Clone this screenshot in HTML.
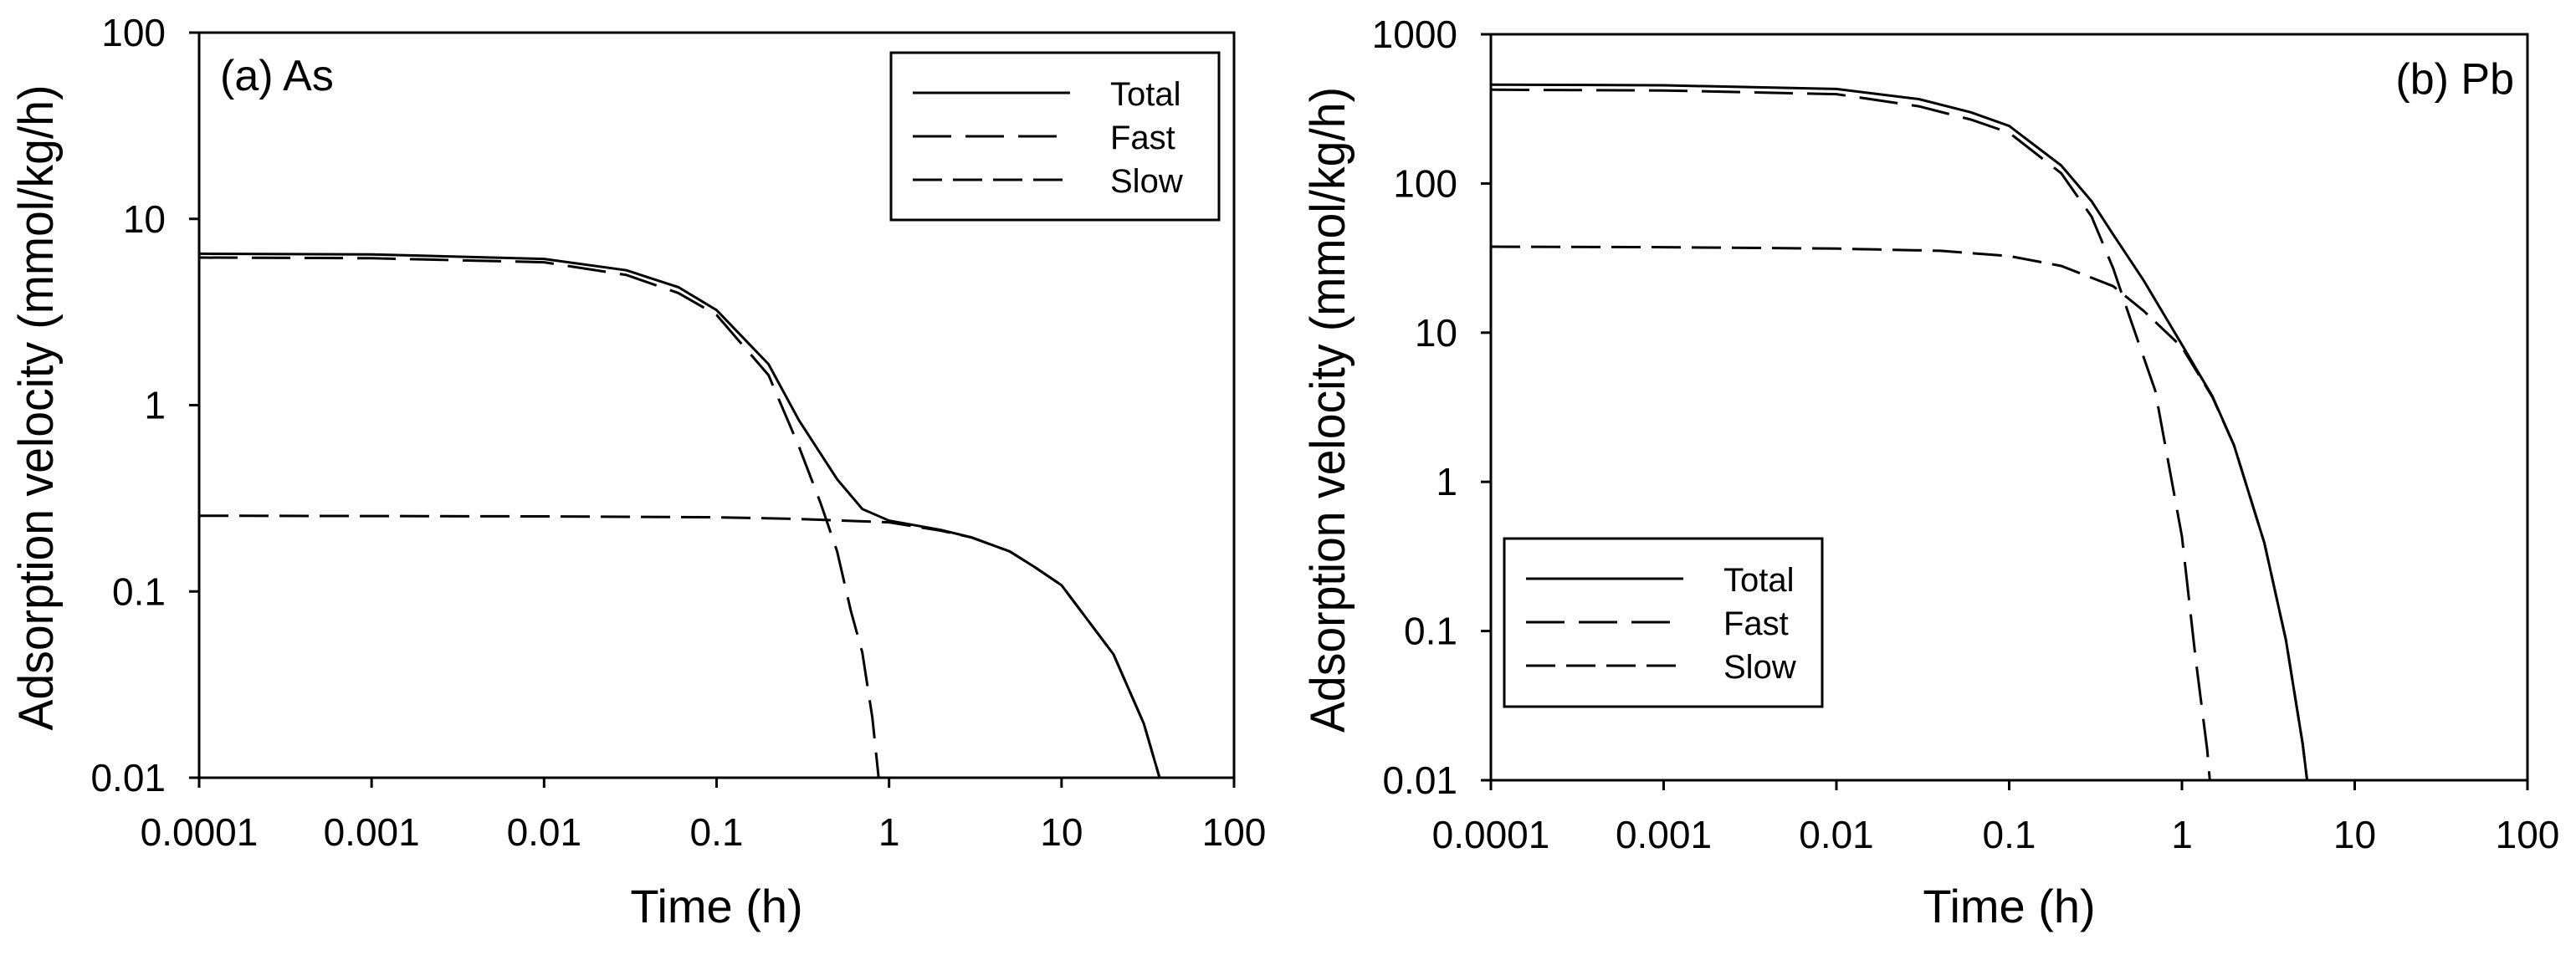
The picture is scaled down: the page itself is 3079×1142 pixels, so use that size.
<!DOCTYPE html>
<html><head><meta charset="utf-8"><style>
html,body{margin:0;padding:0;background:#fff;}
svg{display:block;font-family:"Liberation Sans",Arial,sans-serif;}
</style></head><body>
<svg id="chart" width="3079" height="1142" viewBox="0 0 3079 1142"></svg>
<script>
// Panel (a) As data
const timesA = [0.0001, 0.001, 0.01, 0.03, 0.06, 0.1, 0.2, 0.3, 0.5, 0.7, 1, 2, 3, 5, 7, 10, 20, 30, 37];
const totalA = [6.5, 6.45, 6.1, 5.3, 4.3, 3.24, 1.66, 0.83, 0.4, 0.277, 0.24, 0.214, 0.195, 0.164, 0.135, 0.108, 0.046, 0.0195, 0.01];
const fastTimesA = [0.0001, 0.001, 0.01, 0.03, 0.06, 0.1, 0.2, 0.3, 0.4, 0.5, 0.6, 0.7, 0.8, 0.87];
const fastA = [6.2, 6.15, 5.85, 5.0, 4.0, 3.05, 1.45, 0.6, 0.3, 0.164, 0.079, 0.047, 0.021, 0.01];
const slowTimesA = [0.0001, 0.001, 0.01, 0.1, 0.3, 1, 2, 3, 5, 7, 10, 20, 30, 37];
const slowA = [0.255, 0.254, 0.253, 0.25, 0.245, 0.235, 0.212, 0.195, 0.164, 0.135, 0.108, 0.046, 0.0195, 0.01];
// Panel (b) Pb data
const timesB = [0.0001, 0.001, 0.01, 0.03, 0.06, 0.1, 0.2, 0.3, 0.4, 0.6, 1, 1.5, 2, 3, 4, 5, 5.3];
const totalB = [460, 455, 430, 368, 300, 243, 132, 76, 45.5, 22.4, 8.3, 3.75, 1.76, 0.39, 0.087, 0.0175, 0.01];
const fastTimesB = [0.0001, 0.001, 0.01, 0.03, 0.06, 0.1, 0.2, 0.3, 0.4, 0.5, 0.7, 1, 1.2, 1.4, 1.45];
const fastB = [425, 420, 397, 329, 268, 219, 117, 60, 27, 12.6, 4.1, 0.43, 0.065, 0.016, 0.01];
const slowTimesB = [0.0001, 0.001, 0.01, 0.04, 0.1, 0.2, 0.4, 0.6, 1, 1.5, 2, 3, 4, 5, 5.3];
const slowB = [37.7, 37.4, 36.6, 35.4, 32.6, 28, 20.5, 14, 8, 3.7, 1.76, 0.39, 0.087, 0.0175, 0.01];
// Tick labels
const xTickLabels = ["0.0001", "0.001", "0.01", "0.1", "1", "10", "100"];
const yTickLabelsA = ["0.01", "0.1", "1", "10", "100"];
const yTickLabelsB = ["0.01", "0.1", "1", "10", "100", "1000"];

const NS = "http://www.w3.org/2000/svg";
const svg = document.getElementById("chart");
function mk(tag, attrs, parent) {
  const e = document.createElementNS(NS, tag);
  for (const k in attrs) e.setAttribute(k, attrs[k]);
  (parent || svg).appendChild(e);
  return e;
}
const FAST_DASH = "46 17";
const SLOW_DASH = "35 13";

function panel(p) {
  const g = mk("g", {});
  
  
  const L = p.left, R = p.right, T = p.top, B = p.bottom;
  const xs = v => L + (Math.log10(v) - (-4)) / 6 * (R - L);
  const ys = v => B - (Math.log10(v) - p.yMinLog) / (p.yMaxLog - p.yMinLog) * (B - T);

  const frame = mk("rect", {x: L, y: T, width: R - L, height: B - T, fill: "none", stroke: "#000", "stroke-width": 3}, g);
  
  

  xTickLabels.forEach(lbl => {
    const x = xs(parseFloat(lbl));
    const t = mk("line", {x1: x, x2: x, y1: B, y2: B + 12, stroke: "#000", "stroke-width": 3}, g);
    
    
    const tx = mk("text", {x: x, y: B + 81, "font-size": 46, "text-anchor": "middle"}, g);
    tx.textContent = lbl;
    
    
  });
  p.yLabels.forEach(lbl => {
    const y = ys(parseFloat(lbl));
    const t = mk("line", {x1: L - 12, x2: L, y1: y, y2: y, stroke: "#000", "stroke-width": 3}, g);
    
    
    const tx = mk("text", {x: L - 40, y: y + 16, "font-size": 46, "text-anchor": "end"}, g);
    tx.textContent = lbl;
    
    
  });

  const xt = mk("text", {x: (L + R) / 2, y: 1103, "font-size": 56, "text-anchor": "middle"}, g);
  xt.textContent = "Time (h)";
  
  
  const ty = (T + B) / 2 + 3;
  const yt = mk("text", {x: 0, y: 0, "font-size": 58, "text-anchor": "middle", textLength: 772, lengthAdjust: "spacingAndGlyphs", transform: `translate(${L - 175},${ty}) rotate(-90)`}, g);
  yt.textContent = "Adsorption velocity (mmol/kg/h)";
  
  

  const pl = mk("text", {x: p.labelX, y: p.labelY, "font-size": 52, "text-anchor": p.labelAnchor}, g);
  pl.textContent = p.label;
  
  

  const clipId = "clip-" + p.id;
  const cp = mk("clipPath", {id: clipId}, g);
  mk("rect", {x: L, y: T, width: R - L, height: B - T + 2}, cp);

  function series(tArr, vArr, dash, name) {
    const d = tArr.map((t, i) => (i ? "L" : "M") + xs(t).toFixed(1) + "," + ys(vArr[i]).toFixed(1)).join(" ");
    const a = {d: d, fill: "none", stroke: "#000", "stroke-width": 3, "clip-path": `url(#${clipId})`};
    if (dash) a["stroke-dasharray"] = dash;
    const path = mk("path", a, g);
    
    
  }
  series(p.slowT, p.slow, SLOW_DASH, 'slow-line');
  series(p.fastT, p.fast, FAST_DASH, 'fast-line');
  series(p.totalT, p.total, null, 'total-line');

  // legend
  const lg = mk("g", {}, g);
  
  
  const lb = p.legend;
  mk("rect", {x: lb.x, y: lb.y, width: lb.w, height: lb.h, fill: "#fff", stroke: "#000", "stroke-width": 3}, lg);
  const entries = [["Total", null], ["Fast", FAST_DASH], ["Slow", SLOW_DASH]];
  entries.forEach((en, i) => {
    const cy = lb.y + 48 + i * 52;
    const eg = mk("g", {}, lg);
    
    
    const la = {x1: lb.x + 26, x2: lb.x + 214, y1: cy, y2: cy, stroke: "#000", "stroke-width": 3};
    if (en[1]) la["stroke-dasharray"] = en[1];
    mk("line", la, eg);
    const tx = mk("text", {x: lb.x + 262, y: cy + 15, "font-size": 40}, eg);
    tx.textContent = en[0];
  });
}

panel({id: "as", left: 238, right: 1475, top: 39, bottom: 930, yMinLog: -2, yMaxLog: 2, yLabels: yTickLabelsA,
  label: "(a) As", labelX: 263, labelY: 108, labelAnchor: "start",
  totalT: timesA, total: totalA, fastT: fastTimesA, fast: fastA, slowT: slowTimesA, slow: slowA,
  legend: {x: 1065, y: 63, w: 392, h: 200}});
panel({id: "pb", left: 1782, right: 3021, top: 41, bottom: 933, yMinLog: -2, yMaxLog: 3, yLabels: yTickLabelsB,
  label: "(b) Pb", labelX: 3005, labelY: 112, labelAnchor: "end",
  totalT: timesB, total: totalB, fastT: fastTimesB, fast: fastB, slowT: slowTimesB, slow: slowB,
  legend: {x: 1798, y: 644, w: 380, h: 201}});
</script>
</body></html>
